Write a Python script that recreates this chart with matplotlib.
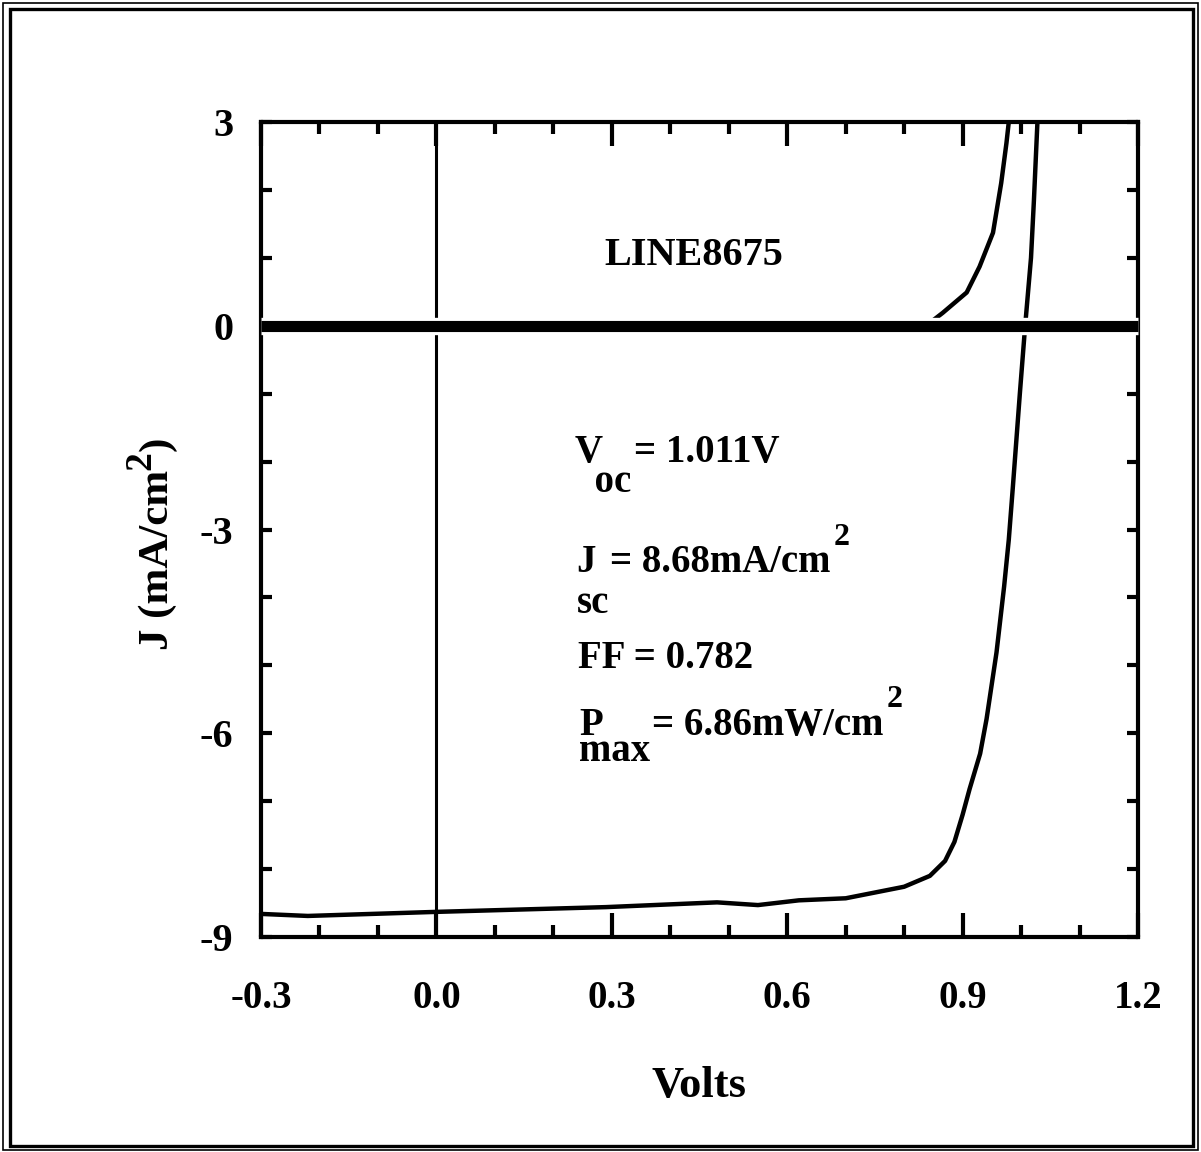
import matplotlib
matplotlib.use('Agg')
import matplotlib.pyplot as plt
import matplotlib.patheffects as pe
from matplotlib.patches import Rectangle
from matplotlib.ticker import MultipleLocator
from matplotlib.font_manager import FontProperties

plt.rcParams['font.family'] = ['Liberation Serif', 'DejaVu Serif']
plt.rcParams['font.weight'] = 'bold'

# ---------------- data ----------------
light_v = [-0.30, -0.22, 0.00, 0.29, 0.48, 0.55, 0.62, 0.70, 0.80, 0.844, 0.870,
           0.886, 0.900, 0.912, 0.930, 0.941, 0.958, 0.971, 0.979, 0.986, 0.998,
           1.007, 1.017, 1.022, 1.028]
light_j = [-8.66, -8.69, -8.63, -8.56, -8.49, -8.53, -8.46, -8.43, -8.26, -8.10, -7.88,
           -7.60, -7.20, -6.82, -6.30, -5.79, -4.81, -3.84, -3.15, -2.37, -0.99,
           0.00, 1.00, 1.85, 3.00]
dark_v = [-0.30, 0.80, 0.845, 0.866, 0.907, 0.929, 0.952, 0.966, 0.975, 0.979]
dark_j = [0.00, 0.00, 0.05, 0.19, 0.49, 0.87, 1.37, 2.10, 2.69, 3.00]

x_ticks = [-0.3, 0.0, 0.3, 0.6, 0.9, 1.2]
x_tick_labels = ['-0.3', '0.0', '0.3', '0.6', '0.9', '1.2']
y_ticks = [-9, -6, -3, 0, 3]
y_tick_labels = ['-9', '-6', '-3', '0', '3']

sample_name = 'LINE8675'
voc_symbol = 'V\n  oc'
voc_text = '= 1.011V'
jsc_symbol = 'J\nsc'
jsc_text = '= 8.68mA/cm'
ff_text = 'FF = 0.782'
pmax_symbol = 'P\nmax'
pmax_text = '= 6.86mW/cm'
x_label = 'Volts'
y_label_main = 'J (mA/cm'

# ---------------- figure ----------------
W, H = 1201, 1152
fig = plt.figure(figsize=(W / 100, H / 100), dpi=100)
renderer = fig.canvas.get_renderer()


def fx(p):
    return p / W


def fy(p):
    return 1 - p / H


# outer double frame
fig.add_artist(Rectangle((fx(3), fy(1150)), fx(1198) - fx(3), fy(3) - fy(1150),
                         transform=fig.transFigure, fill=False, lw=1.2, ec='black'))
fig.add_artist(Rectangle((fx(10), fy(1146)), fx(1193) - fx(10), fy(9) - fy(1146),
                         transform=fig.transFigure, fill=False, lw=2.4, ec='black'))

AX_TOP, AX_BOT = 122, 937
ax = fig.add_axes([fx(261), fy(AX_BOT), (1138 - 261) / W, (AX_BOT - AX_TOP) / H])
ax.set_xlim(-0.3, 1.2)
ax.set_ylim(-9, 3)


def px_to_j(py):
    return 3 - (py - AX_TOP) / (AX_BOT - AX_TOP) * 12


def j_to_px(j):
    return AX_TOP + (3 - j) / 12 * (AX_BOT - AX_TOP)


for s in ax.spines.values():
    s.set_linewidth(3)

ax.plot(light_v, light_j, color='black', lw=3.2, zorder=4, solid_capstyle='round')
ax.plot(dark_v, dark_j, color='black', lw=3.2, zorder=4, solid_capstyle='round')

ax.axvline(0, color='black', lw=2.2, zorder=4.5)
ax.axhline(0, color='black', lw=8, zorder=6, clip_on=False, solid_capstyle='butt',
           path_effects=[pe.Stroke(linewidth=12.5, foreground='white'), pe.Normal()])

ax.set_xticks(x_ticks, x_tick_labels, fontsize=28, fontweight='bold')
ax.set_yticks(y_ticks, y_tick_labels, fontsize=29, fontweight='bold')
ax.xaxis.set_minor_locator(MultipleLocator(0.1))
ax.yaxis.set_minor_locator(MultipleLocator(1))
ax.tick_params(axis='x', which='major', direction='in', length=17, width=3,
               color='black', top=True, bottom=True, pad=31)
ax.tick_params(axis='x', which='minor', direction='in', length=8.5, width=3,
               color='black', top=True, bottom=True)
ax.tick_params(axis='y', which='both', direction='in', length=8, width=3,
               color='black', left=True, right=True, pad=20)

# x label
ax.set_xlabel(x_label, fontsize=32, fontweight='bold')
ax.xaxis.set_label_coords(0.499, -0.158)

# y label built from pieces (large superscript)
t_y1 = fig.text(fx(168), fy(650), y_label_main, rotation=90, rotation_mode='anchor',
                ha='left', va='baseline', fontsize=31, fontweight='bold')
t_y2 = ax.annotate('2', xy=(fx(150), 1), xycoords=('figure fraction', t_y1),
                   rotation=90, rotation_mode='anchor', ha='left', va='baseline',
                   fontsize=27, fontweight='bold', annotation_clip=False)
t_y3 = ax.annotate(')', xy=(fx(168), 1), xycoords=('figure fraction', t_y2),
                   rotation=90, rotation_mode='anchor', ha='left', va='baseline',
                   fontsize=31, fontweight='bold', annotation_clip=False)

# sample name
ax.text(0.288, 0.894, sample_name, fontsize=29, fontweight='bold',
        ha='left', va='baseline')

MAIN, SUP = 28, 23


def lp_metrics(size):
    fp = FontProperties(family='Liberation Serif', weight='bold', size=size)
    w, h, d = renderer.get_text_width_height_descent('lp', fp, ismath=False)
    return h, d


def stacked(x, base_j, sub_j, txt, size=MAIN):
    """Symbol with a full-size subscript below it, as one two-line text."""
    h, d = lp_metrics(size)
    gap = j_to_px(sub_j) - j_to_px(base_j)
    ls = (gap - d) / (h - d)
    top = px_to_j(j_to_px(base_j) - (h - d))
    return ax.text(x, top, txt, fontsize=size, ha='left', va='top',
                   linespacing=ls, fontweight='bold')


def after(prev, txt, y, size, dx_px=0):
    return ax.annotate(txt, xy=(1, y), xycoords=(prev, 'data'),
                       xytext=(dx_px * 0.72, 0), textcoords='offset points',
                       ha='left', va='baseline', fontsize=size, fontweight='bold',
                       annotation_clip=False)


# V_oc line
s1 = stacked(0.237, -2.006, -2.448, voc_symbol)
after(s1, voc_text, -2.006, MAIN, 3)

# J_sc line
s2 = stacked(0.240, -3.626, -4.229, jsc_symbol)
m2 = after(s2, jsc_text, -3.626, MAIN, 1)
after(m2, '2', -3.228, SUP, 3)

# FF line
ax.text(0.242, -5.039, ff_text, fontsize=MAIN, ha='left', va='baseline')

# P_max line
s4 = stacked(0.244, -6.026, -6.409, pmax_symbol)
m4 = after(s4, pmax_text, -6.026, MAIN, 2)
after(m4, '2', -5.614, SUP, 3)

fig.savefig('out.png', dpi=100)
